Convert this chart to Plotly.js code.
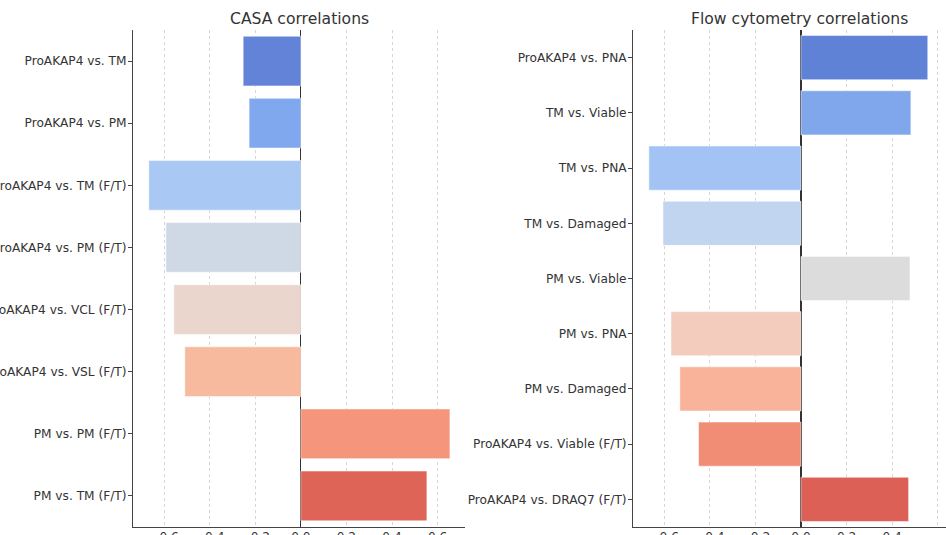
<!DOCTYPE html>
<html>
<head>
<meta charset="utf-8">
<script src="https://cdn.plot.ly/plotly-3.0.1.min.js"></script>
<style>html,body{margin:0;padding:0;background:#fff;}#chart{width:946px;height:535px;}</style>
</head>
<body>
<div id="chart"></div>
<script>
// CASA correlations
const casaLabels = ["ProAKAP4 vs. TM", "ProAKAP4 vs. PM", "ProAKAP4 vs. TM (F/T)", "ProAKAP4 vs. PM (F/T)",
  "ProAKAP4 vs. VCL (F/T)", "ProAKAP4 vs. VSL (F/T)", "PM vs. PM (F/T)", "PM vs. TM (F/T)"];
const casaValues = [-0.253, -0.227, -0.667, -0.592, -0.557, -0.509, 0.654, 0.553];
const casaColors = ["#6283d7", "#80a8ee", "#aac8f4", "#cfd9e6", "#ebd6cd", "#f8ba9f", "#f5967c", "#de6457"];

// Flow cytometry correlations
const flowLabels = ["ProAKAP4 vs. PNA", "TM vs. Viable", "TM vs. PNA", "TM vs. Damaged", "PM vs. Viable",
  "PM vs. PNA", "PM vs. Damaged", "ProAKAP4 vs. Viable (F/T)", "ProAKAP4 vs. DRAQ7 (F/T)"];
const flowValues = [0.556, 0.482, -0.667, -0.605, 0.478, -0.570, -0.531, -0.449, 0.472];
const flowColors = ["#5f81d6", "#80a7ec", "#a2c3f4", "#c1d5f1", "#dcdcdc", "#f4ccbd", "#f9b39a", "#f18d75", "#dc6055"];

const xTicks = [-0.6, -0.4, -0.2, 0.0, 0.2, 0.4, 0.6];
const xTickText = ["\u22120.6", "\u22120.4", "\u22120.2", "0.0", "0.2", "0.4", "0.6"];

const font = {family: "DejaVu Sans, sans-serif", size: 12.2, color: "#333"};

const traces = [
  {type: "bar", orientation: "h", x: casaValues, y: casaLabels, xaxis: "x", yaxis: "y",
   marker: {color: casaColors, line: {color: "rgba(255,255,255,0.5)", width: 1}}, width: 0.8, hoverinfo: "x+y"},
  {type: "bar", orientation: "h", x: flowValues, y: flowLabels, xaxis: "x2", yaxis: "y2",
   marker: {color: flowColors, line: {color: "rgba(255,255,255,0.5)", width: 1}}, width: 0.8, hoverinfo: "x+y"}
];

const xCommon = {
  tickvals: xTicks, ticktext: xTickText, ticks: "", ticklen: 0, ticklabelstandoff: -2,
  showgrid: true, gridcolor: "#d6d6d6", griddash: "dot", gridwidth: 1,
  zeroline: true, zerolinecolor: "#333", zerolinewidth: 1.1,
  showline: true, linecolor: "#444", linewidth: 1.3, tickfont: font, fixedrange: true
};
const yCommon = {
  type: "category", ticks: "outside", ticklen: 4, tickcolor: "#444", ticklabelstandoff: -1,
  showgrid: false, zeroline: false, showline: true, linecolor: "#444", linewidth: 1.3,
  tickfont: font, automargin: false, fixedrange: true
};

const titleFont = {family: "DejaVu Sans, sans-serif", size: 15.6, color: "#333"};

const layout = {
  width: 946, height: 535,
  margin: {l: 0, r: 0, t: 0, b: 0},
  paper_bgcolor: "#fff", plot_bgcolor: "#fff",
  showlegend: false, bargap: 0.2,
  font: font,
  xaxis: Object.assign({}, xCommon, {domain: [0.1409, 0.4915], range: [-0.735, 0.72], anchor: "y"}),
  yaxis: Object.assign({}, yCommon, {domain: [0.0150, 0.9439], range: [7.5, -0.5], anchor: "x"}),
  xaxis2: Object.assign({}, xCommon, {domain: [0.6695, 1.0], range: [-0.735, 0.636], anchor: "y2"}),
  yaxis2: Object.assign({}, yCommon, {domain: [0.0150, 0.9439], range: [8.5, -0.5], anchor: "x2"}),
  annotations: [
    {text: "CASA correlations", xref: "paper", yref: "paper", x: 0.317, y: 0.9645, xanchor: "center", yanchor: "middle",
     showarrow: false, font: titleFont},
    {text: "Flow cytometry correlations", xref: "paper", yref: "paper", x: 0.845, y: 0.9645, xanchor: "center", yanchor: "middle",
     showarrow: false, font: titleFont}
  ]
};

Plotly.newPlot("chart", traces, layout, {displayModeBar: false, staticPlot: true});
</script>
</body>
</html>
